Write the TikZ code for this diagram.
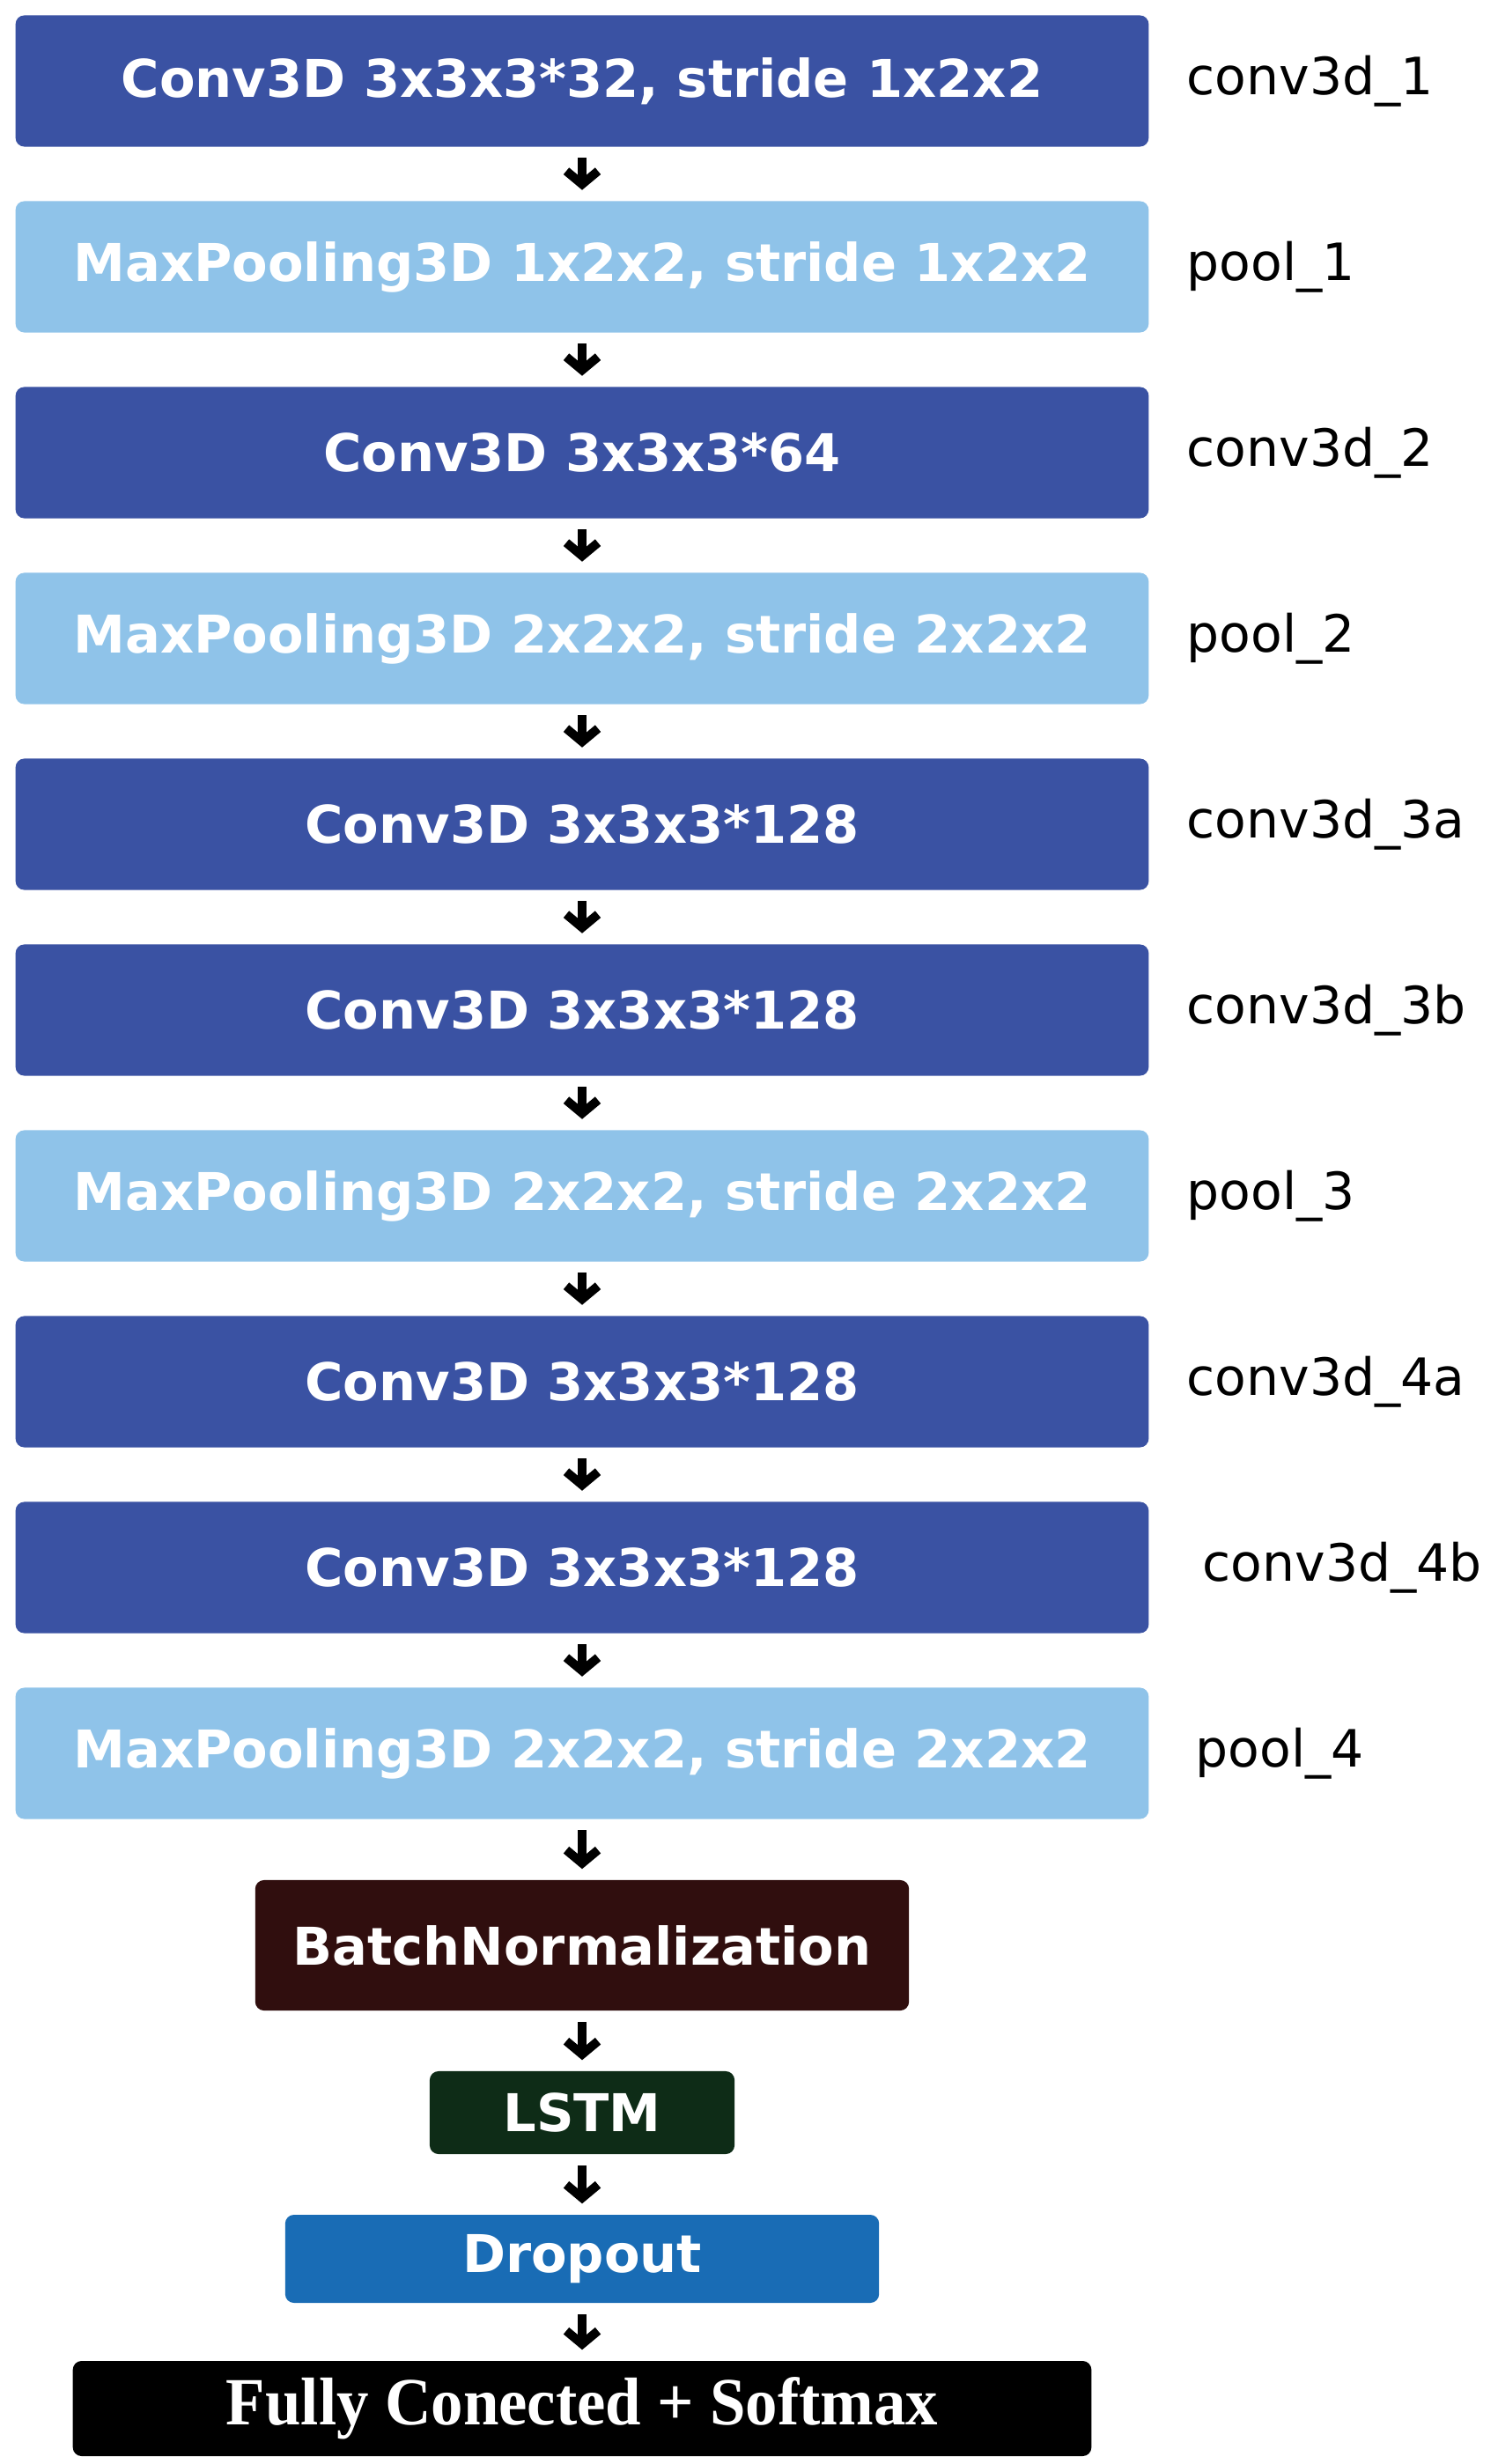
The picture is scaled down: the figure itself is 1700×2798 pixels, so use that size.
\documentclass[tikz,border=0pt]{standalone}
\usepackage{fontspec}
\usepackage{xcolor}
\usepackage{tikz}
\setmainfont{DejaVu Sans}
\newfontfamily\fcfont{Liberation Serif}
\usetikzlibrary{arrows.meta,positioning}

\definecolor{convblue}{HTML}{3A52A3}
\definecolor{poolblue}{HTML}{8FC3E9}
\definecolor{bnred}{HTML}{300E0E}
\definecolor{lstmgreen}{HTML}{0E2C17}
\definecolor{dropblue}{HTML}{196CB5}

\begin{document}
\begin{tikzpicture}[x=0.01cm,y=-0.01cm,
    layer/.style={rounded corners=0.1cm, text=white, inner sep=0pt, font=\fontsize{16.8}{20}\selectfont\bfseries},
    conv/.style={layer, fill=convblue, minimum width=12.86cm, minimum height=1.49cm},
    pool/.style={conv, fill=poolblue},
    tag/.style={anchor=west, inner sep=0pt, font=\fontsize{16.6}{20}\selectfont},
    flow/.style={-{Straight Barb[length=0.15cm,width=0.36cm]}, line width=0.1cm, shorten <=0.12cm, shorten >=0.12cm}]
    \useasboundingbox (0,0) rectangle (1700,2798);

    % Conv3D / pooling stack
    \node[conv] (c1) at (661,92) {Conv3D 3x3x3*32, stride 1x2x2};
    \node[pool] (p1) at (661,303) {MaxPooling3D 1x2x2, stride 1x2x2};
    \node[conv] (c2) at (661,514) {Conv3D 3x3x3*64};
    \node[pool] (p2) at (661,725) {MaxPooling3D 2x2x2, stride 2x2x2};
    \node[conv] (c3a) at (661,936) {Conv3D 3x3x3*128};
    \node[conv] (c3b) at (661,1147) {Conv3D 3x3x3*128};
    \node[pool] (p3) at (661,1358) {MaxPooling3D 2x2x2, stride 2x2x2};
    \node[conv] (c4a) at (661,1569) {Conv3D 3x3x3*128};
    \node[conv] (c4b) at (661,1780) {Conv3D 3x3x3*128};
    \node[pool] (p4) at (661,1991) {MaxPooling3D 2x2x2, stride 2x2x2};

    % Head
    \node[layer, fill=bnred, minimum width=7.42cm, minimum height=1.48cm] (bn) at (661,2209) {BatchNormalization};
    \node[layer, fill=lstmgreen, minimum width=3.46cm, minimum height=0.94cm] (lstm) at (661,2399) {LSTM};
    \node[layer, fill=dropblue, minimum width=6.74cm, minimum height=1.0cm] (drop) at (661,2565) {Dropout};
    \node[layer, fill=black, minimum width=11.56cm, minimum height=1.08cm, font=\fcfont\fontsize{21.8}{24}\selectfont\bfseries] (fc) at (661,2735) {\scalebox{0.95}[1]{Fully Conected + Softmax}};

    % Layer names
    \node[tag] at (1347,92) {conv3d\_1};
    \node[tag] at (1347,303) {pool\_1};
    \node[tag] at (1347,514) {conv3d\_2};
    \node[tag] at (1347,725) {pool\_2};
    \node[tag] at (1347,936) {conv3d\_3a};
    \node[tag] at (1347,1147) {conv3d\_3b};
    \node[tag] at (1347,1358) {pool\_3};
    \node[tag] at (1347,1569) {conv3d\_4a};
    \node[tag] at (1365,1780) {conv3d\_4b};
    \node[tag] at (1357,1991) {pool\_4};

    \draw[flow] (c1) -- (p1);
    \draw[flow] (p1) -- (c2);
    \draw[flow] (c2) -- (p2);
    \draw[flow] (p2) -- (c3a);
    \draw[flow] (c3a) -- (c3b);
    \draw[flow] (c3b) -- (p3);
    \draw[flow] (p3) -- (c4a);
    \draw[flow] (c4a) -- (c4b);
    \draw[flow] (c4b) -- (p4);
    \draw[flow] (p4) -- (bn);
    \draw[flow] (bn) -- (lstm);
    \draw[flow] (lstm) -- (drop);
    \draw[flow] (drop) -- (fc);
\end{tikzpicture}
\end{document}
